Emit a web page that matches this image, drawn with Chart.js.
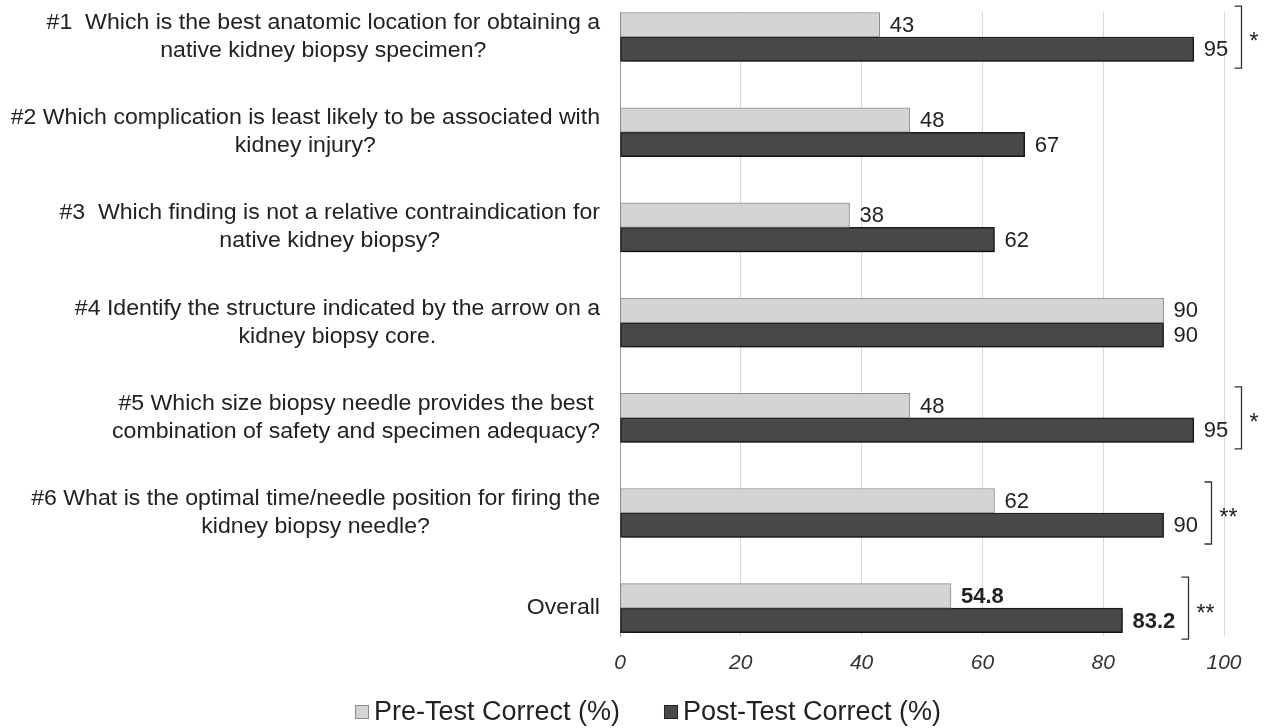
<!DOCTYPE html>
<html>
<head>
<meta charset="utf-8">
<script src="https://cdn.jsdelivr.net/npm/chart.js@4.4.1/dist/chart.umd.min.js"></script>
<style>
  html, body { margin: 0; padding: 0; background: #fff; }
  #wrap { width: 1271px; height: 728px; }
</style>
</head>
<body>
<div id="wrap"><canvas id="biopsy-chart"></canvas></div>
<script>
const questions = [
  ["#1  Which is the best anatomic location for obtaining a", "native kidney biopsy specimen?"],
  ["#2 Which complication is least likely to be associated with", "kidney injury?"],
  ["#3  Which finding is not a relative contraindication for", "native kidney biopsy?"],
  ["#4 Identify the structure indicated by the arrow on a", "kidney biopsy core."],
  ["#5 Which size biopsy needle provides the best", "combination of safety and specimen adequacy?"],
  ["#6 What is the optimal time/needle position for firing the", "kidney biopsy needle?"],
  ["Overall"]
];
const preTest = [43, 48, 38, 90, 48, 62, 54.8];
const postTest = [95, 67, 62, 90, 95, 90, 83.2];
const significance = ["*", "", "", "", "*", "**", "**"];
const seriesNames = ["Pre-Test Correct (%)", "Post-Test Correct (%)"];

const FONT = '"Liberation Sans", Arial, sans-serif';
const preColor = "#d3d4d6";
const postColor = "#47484a";

// labels, values, brackets and legend drawn by hand
const annotate = {
  id: "annotate",
  beforeDatasetDraw(chart, args) {
    if (args.index === 1) {
      const ctx = chart.ctx;
      ctx.save();
      ctx.shadowColor = "rgba(0,0,0,0.4)";
      ctx.shadowBlur = 5;
      ctx.shadowOffsetX = 2;
      ctx.shadowOffsetY = 3;
    }
  },
  afterDatasetDraw(chart, args) {
    if (args.index === 1) chart.ctx.restore();
  },
  afterDraw(chart) {
    const ctx = chart.ctx;
    const y = chart.scales.y;
    ctx.save();
    ctx.fillStyle = "#222";
    ctx.textBaseline = "middle";

    // question labels: right-aligned block, centered lines (slightly wide type)
    const sx = 1.05;
    ctx.font = "22px " + FONT;
    ctx.textAlign = "center";
    questions.forEach((lines, i) => {
      const cy = y.getPixelForValue(i);
      const w = Math.max(...lines.map(l => ctx.measureText(l).width)) * sx;
      const cx = 600 - w / 2;
      lines.forEach((l, j) => {
        ctx.save();
        ctx.translate(cx, cy + (j - (lines.length - 1) / 2) * 28);
        ctx.scale(sx, 1);
        ctx.fillText(l, 0, 0);
        ctx.restore();
      });
    });

    // value labels
    ctx.textAlign = "left";
    const last = questions.length - 1;
    const ends = [];
    [preTest, postTest].forEach((vals, d) => {
      const meta = chart.getDatasetMeta(d);
      meta.data.forEach((bar, i) => {
        ctx.font = (i === last ? "bold " : "") + "22px " + FONT;
        const txt = String(vals[i]);
        ctx.fillText(txt, bar.x + 10, bar.y + 1);
        const e = bar.x + 10 + ctx.measureText(txt).width;
        ends[i] = Math.max(ends[i] || 0, e);
      });
    });

    // significance brackets
    ctx.strokeStyle = "#333";
    ctx.lineWidth = 1.3;
    significance.forEach((s, i) => {
      if (!s) return;
      const cy = y.getPixelForValue(i);
      const bx = Math.round(ends[i] + 13) + 0.5;
      const top = cy - 31, bot = cy + 31;
      ctx.beginPath();
      ctx.moveTo(bx - 7, top);
      ctx.lineTo(bx, top);
      ctx.lineTo(bx, bot);
      ctx.lineTo(bx - 7, bot);
      ctx.stroke();
      ctx.font = "23px " + FONT;
      ctx.fillText(s, bx + 8, cy + 6);
    });

    // legend
    ctx.font = "27px " + FONT;
    const box = 14, gap = 5, between = 44;
    const widths = seriesNames.map(n => ctx.measureText(n).width);
    const total = widths[0] + widths[1] + 2 * (box + gap) + between;
    let lx = 648 - total / 2;
    const ly = 712;
    [preColor, postColor].forEach((c, k) => {
      ctx.fillStyle = c;
      ctx.fillRect(lx, ly - box / 2, box, box);
      ctx.strokeStyle = k === 0 ? "#8a8a8a" : "#222";
      ctx.lineWidth = 1;
      ctx.strokeRect(lx + 0.5, ly - box / 2 + 0.5, box - 1, box - 1);
      ctx.fillStyle = "#222";
      ctx.fillText(seriesNames[k], lx + box + gap, ly + 1);
      lx += box + gap + widths[k] + between;
    });
    ctx.restore();
  }
};

new Chart(document.getElementById("biopsy-chart"), {
  type: "bar",
  data: {
    datasets: [
      {
        label: seriesNames[0],
        data: preTest.map((v, i) => ({ x: v, y: i })),
        backgroundColor: preColor,
        borderColor: "#8a8a8a",
        borderWidth: 1,
        borderSkipped: false,
        barThickness: 24.5
      },
      {
        label: seriesNames[1],
        data: postTest.map((v, i) => ({ x: v, y: i })),
        backgroundColor: postColor,
        borderColor: "#1e1e1e",
        borderWidth: 1.5,
        borderSkipped: false,
        barThickness: 24.5
      }
    ]
  },
  options: {
    indexAxis: "y",
    responsive: true,
    maintainAspectRatio: false,
    animation: false,
    layout: { padding: { top: 12, right: 47, bottom: 55, left: 0 } },
    plugins: {
      legend: { display: false },
      tooltip: { enabled: false }
    },
    scales: {
      x: {
        type: "linear",
        min: 0,
        max: 100,
        ticks: {
          stepSize: 20,
          padding: 15,
          color: "#333",
          font: { family: FONT, size: 21, style: "italic" }
        },
        grid: { color: "#d9d9d9", drawTicks: false },
        border: { display: false },
        afterFit: (s) => { s.height = 37; }
      },
      y: {
        type: "linear",
        reverse: true,
        offset: false,
        min: -0.263,
        max: 6.292,
        ticks: { display: false },
        grid: { display: false, offset: false },
        border: { color: "#a0a0a0" },
        afterFit: (s) => { s.width = 620; }
      }
    }
  },
  plugins: [annotate]
});
</script>
</body>
</html>
